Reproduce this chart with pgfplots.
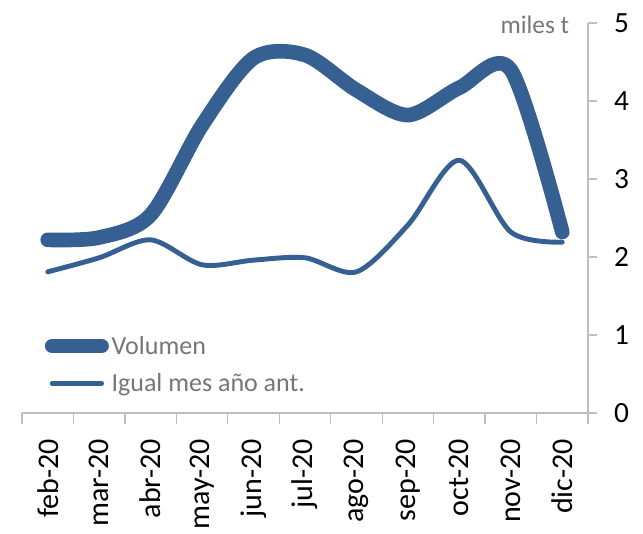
\documentclass[border=0pt]{standalone}
\usepackage{pgfplots}
\pgfplotsset{compat=1.18}
\usepackage{fontspec}
\setmainfont{Carlito}
\definecolor{serie}{RGB}{55,96,146}
\definecolor{ejegris}{RGB}{191,191,191}
\definecolor{textogris}{RGB}{118,118,118}
\begin{document}
\begin{tikzpicture}
\begin{axis}[
  scale only axis,
  width=424.5pt, height=292.5pt,
  xmin=-0.5, xmax=10.5, ymin=0, ymax=5,
  axis y line=right, axis x line=bottom,
  axis line style={ejegris, line width=1pt, -},
  xtick={0,...,10},
  xticklabels={feb-20,mar-20,abr-20,may-20,jun-20,jul-20,ago-20,sep-20,oct-20,nov-20,dic-20},
  minor xtick={-0.5,0.5,...,10.5},
  major x tick style={draw=none},
  minor tick length=8pt,
  major tick length=7pt,
  tick align=outside,
  tick style={ejegris, line width=1pt},
  xticklabel style={yshift=-9pt, rotate=90, anchor=east, font=\fontsize{22.5}{26}\selectfont, text=black},
  ytick={0,1,2,3,4,5},
  yticklabel style={font=\fontsize{22}{26}\selectfont, text=black, xshift=9pt},
  /pgf/number format/assume math mode=true,
  clip=false,
  legend style={draw=none, fill=none, at={(rel axis cs:0.04,0.205)}, anchor=north west,
    font=\fontsize{19.5}{22}\selectfont, text=textogris, row sep=9pt, inner sep=0pt,
    /tikz/every even column/.append style={column sep=0pt}},
  legend cell align=left,
  legend image code/.code={\draw[#1] (0cm,0cm) -- (1.3cm,0cm);},
]
\addplot[serie, line width=11pt, line cap=round, line join=round, smooth, tension=0.5] coordinates {
(0,2.22) (1,2.25) (2,2.54) (3,3.69) (4,4.55) (5,4.59) (6,4.14) (7,3.82) (8,4.17) (9,4.40) (10,2.32)};
\addlegendentry{Volumen}
\addplot[serie, line width=3.7pt, line cap=round, line join=round, smooth, tension=0.5] coordinates {
(0,1.81) (1,1.99) (2,2.22) (3,1.90) (4,1.96) (5,1.99) (6,1.81) (7,2.41) (8,3.24) (9,2.32) (10,2.19)};
\addlegendentry{Igual mes año ant.}
\node[anchor=north east, text=textogris, font=\fontsize{19}{22}\selectfont] at (rel axis cs:0.975,1.03) {miles t};
\path (rel axis cs:-0.0389,-0.2795) rectangle (rel axis cs:1.0972,1.059);
\end{axis}
\end{tikzpicture}
\end{document}
